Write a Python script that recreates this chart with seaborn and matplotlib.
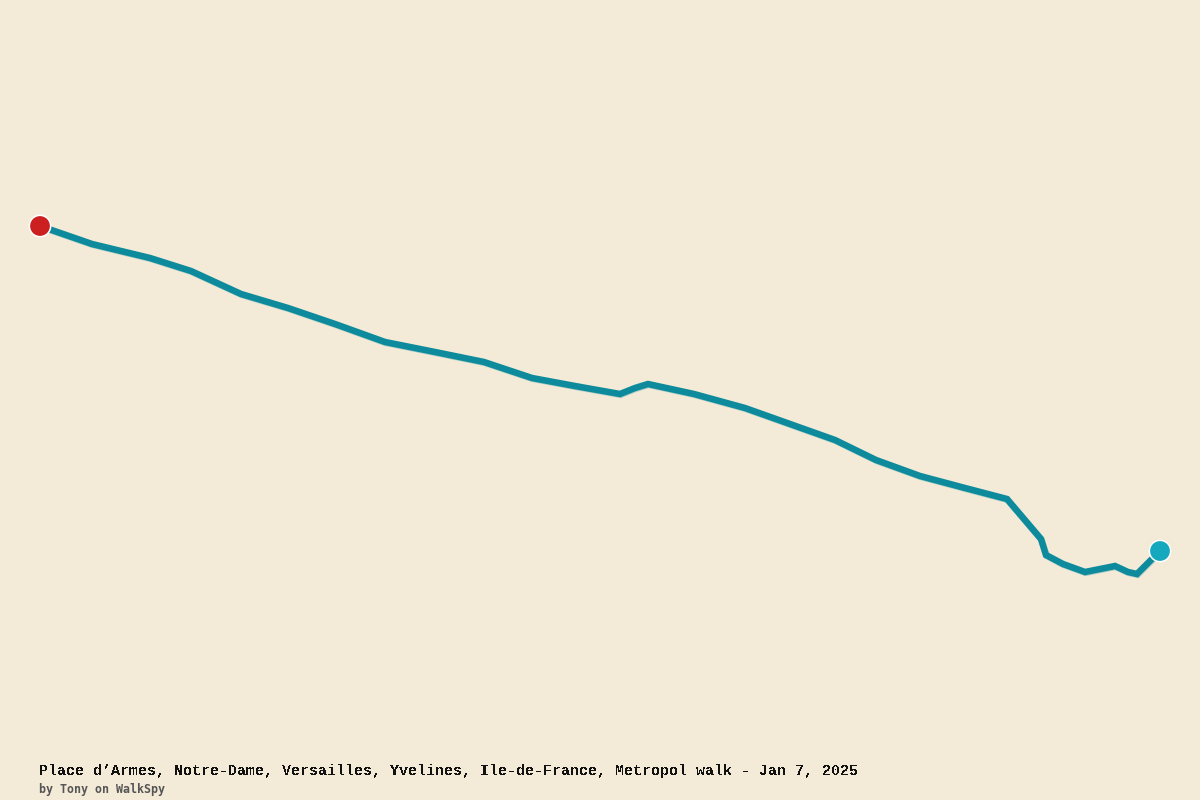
import matplotlib
matplotlib.use("Agg")
import matplotlib.pyplot as plt
import matplotlib.patheffects as pe
import pandas as pd
import seaborn as sns

route_x = [40, 92, 150, 191, 241, 288, 335, 385, 435, 484, 532, 575, 620, 635, 648, 694, 745, 790, 835, 876, 920, 965, 1007, 1041, 1046, 1063, 1085, 1115, 1128, 1137, 1160]
route_y = [226, 244, 258, 271, 294, 308, 324, 342, 352, 362, 378, 386, 394, 388, 384, 394, 408, 424, 440, 460, 476, 488, 499, 539, 555, 564, 572, 566, 572, 574, 551]
end_x = [40, 1160]
end_y = [226, 551]
end_names = ["start", "finish"]
end_colors = {"start": "#CC1F1F", "finish": "#16A9BE"}
title = "Place d\u2019Armes, Notre-Dame, Versailles, Yvelines, Ile-de-France, Metropol walk - Jan 7, 2025"
byline = "by Tony on WalkSpy"

BG = "#F3EAD7"
sns.set_theme(style="white", rc={"figure.facecolor": BG, "axes.facecolor": BG})
plt.rcParams["font.family"] = ["Liberation Mono", "DejaVu Sans Mono"]

fig = plt.figure(figsize=(12, 8), dpi=100)
ax = fig.add_axes([0, 0, 1, 1])

route = pd.DataFrame({"x": route_x, "y": route_y})
ends = pd.DataFrame({"x": end_x, "y": end_y, "kind": end_names})

sns.lineplot(data=route, x="x", y="y", sort=False, estimator=None, color="#0D8B9C",
             linewidth=4.7, ax=ax, solid_joinstyle="miter", solid_capstyle="butt",
             path_effects=[pe.SimpleLineShadow(offset=(0.4, -0.6), shadow_color="#0D8B9C", alpha=0.3), pe.Normal()])
sns.scatterplot(data=ends, x="x", y="y", hue="kind", palette=end_colors, s=235,
                edgecolor="white", linewidth=1.1, legend=False, ax=ax, zorder=5)

ax.set_xlim(0, 1200)
ax.set_ylim(800, 0)
ax.set_axis_off()

ax.text(39, 771, title, fontsize=10.8, fontweight="bold", color="#111111", va="center", ha="left", antialiased=False)
ax.text(39, 790, byline, fontsize=8.4, fontweight="bold", color="#555555", va="center", ha="left", family=["DejaVu Sans Mono"])

fig.savefig("out.png", dpi=100, facecolor=BG)
